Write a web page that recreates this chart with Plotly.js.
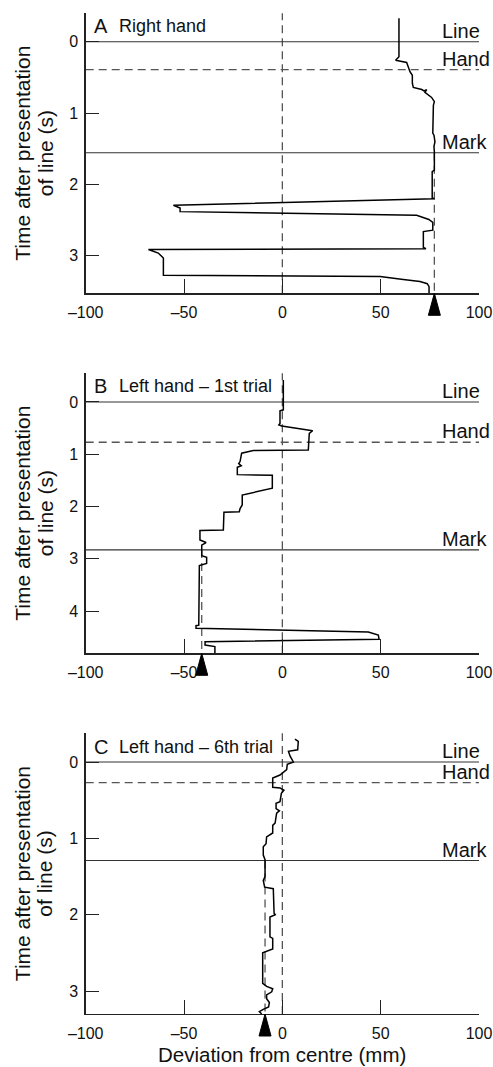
<!DOCTYPE html>
<html><head><meta charset="utf-8">
<script src="https://cdn.plot.ly/plotly-3.0.1.min.js"></script>
<style>html,body{margin:0;padding:0;background:#fff;}#chart{width:493px;height:1067px;}</style>
</head><body><div id="chart"></div>
<script>
// ---------- data ----------
const panelLetters = ['A', 'B', 'C'];
const panelTitles = ['Right hand', 'Left hand – 1st trial', 'Left hand – 6th trial'];
const eventLabels = ['Line', 'Hand', 'Mark'];
const xTickVals = [-100, -50, 0, 50, 100];
const xTickLabels = ['–100', '–50', '0', '50', '100'];
const xTitle = 'Deviation from centre (mm)';
const yTitleLines = ['Time after presentation', 'of line (s)'];

// Panel A – right hand
const timeA = [-0.33, 0.21, 0.26, 0.29, 0.35, 0.42, 0.47, 0.58, 0.64, 0.67, 0.69, 0.67, 0.71, 0.78, 0.84, 0.89, 1.28, 1.31, 1.40, 1.47, 1.54, 1.80, 1.82, 2.19, 2.20, 2.29, 2.33, 2.38, 2.43, 2.49, 2.53, 2.56, 2.64, 2.66, 2.88, 2.90, 2.91, 2.96, 3.03, 3.27, 3.29, 3.33, 3.36, 3.39, 3.43, 3.52];
const devA = [59.3, 59.3, 57.6, 63.2, 64.0, 64.9, 66.1, 66.1, 66.6, 70.9, 72.0, 73.4, 72.5, 75.9, 77.3, 76.8, 76.5, 77.1, 77.6, 77.1, 77.3, 77.3, 76.2, 76.2, 77.3, -55.4, -52.0, -52.0, 68.3, 74.5, 76.5, 76.6, 76.5, 71.7, 71.7, 73.0, -68.1, -63.1, -60.5, -60.5, 49.7, 61.5, 70.0, 73.7, 74.6, 74.6];
const eventsA = [0, 0.39, 1.555];
const finalA = 77.3;

// Panel B – left hand, 1st trial
const timeB = [-0.42, 0.15, 0.17, 0.41, 0.44, 0.46, 0.55, 0.60, 0.92, 0.93, 0.98, 1.14, 1.18, 1.22, 1.25, 1.39, 1.40, 1.65, 1.78, 1.97, 2.04, 2.10, 2.11, 2.45, 2.46, 2.64, 2.69, 2.74, 2.94, 2.97, 3.09, 3.13, 4.27, 4.28, 4.33, 4.40, 4.46, 4.54, 4.59, 4.65, 4.68, 4.81];
const devB = [0.5, 0.5, -1.2, -1.2, -1.8, -0.3, 15.4, 13.7, 13.2, -14.8, -20.7, -21.5, -22.2, -20.9, -22.9, -22.9, -5.1, -5.1, -20.4, -20.4, -21.5, -21.9, -29.7, -30.0, -41.9, -41.9, -38.8, -41.0, -41.0, -38.5, -38.5, -42.2, -42.5, -43.9, -43.9, 43.7, 48.8, 49.2, -39.3, -39.3, -34.3, -34.3];
const eventsB = [0, 0.77, 2.83];
const finalB = -41.0;

// Panel C – left hand, 6th trial
const timeC = [-0.30, -0.27, -0.16, -0.14, -0.08, 0.00, 0.03, 0.10, 0.17, 0.21, 0.33, 0.34, 0.37, 0.41, 0.52, 0.54, 0.61, 0.64, 0.67, 0.80, 0.83, 0.93, 0.98, 1.07, 1.11, 1.22, 1.28, 1.50, 1.55, 1.64, 1.66, 1.98, 2.00, 2.03, 2.29, 2.31, 2.45, 2.50, 2.90, 2.94, 2.97, 3.01, 3.05, 3.10, 3.15, 3.21, 3.24, 3.27, 3.30];
const devC = [6.4, 8.1, 7.8, 3.1, 3.9, 5.6, 2.5, 2.2, -1.2, -4.9, -4.9, -1.2, 0.8, -0.5, -1.2, -3.2, -3.2, -1.5, -2.9, -3.7, -4.9, -4.9, -8.0, -8.3, -9.7, -9.7, -8.8, -8.8, -9.7, -9.0, -4.6, -4.2, -3.6, -6.3, -6.3, -4.9, -4.9, -10.0, -10.0, -8.0, -4.9, -5.4, -8.0, -8.0, -6.6, -7.0, -9.7, -11.7, -10.5];
const eventsC = [0, 0.27, 1.29];
const finalC = -8.8;

// ---------- layout geometry (pixels) ----------
const W = 493, H = 1067;
const FONT = '"Liberation Sans", Arial, Helvetica, sans-serif';
const plotL = 85.7, plotR = 479;
const tops = [13.3, 373.3, 733.3];
const bottoms = [293.3, 653.3, 1014];
const yRanges = [[3.524, -0.398], [4.809, -0.549], [3.301, -0.376]];
const letterShift = [-12.4, -12.2, -13.4];

const series = [
  {t: timeA, x: devA, ev: eventsA, fin: finalA},
  {t: timeB, x: devB, ev: eventsB, fin: finalB},
  {t: timeC, x: devC, ev: eventsC, fin: finalC}
];

const data = [], shapes = [], annotations = [];
const layout = {
  width: W, height: H,
  margin: {l: 0, r: 0, t: 0, b: 0},
  paper_bgcolor: '#fff', plot_bgcolor: '#fff',
  showlegend: false,
  font: {family: FONT, color: '#111', size: 16},
  shapes: shapes, annotations: annotations
};

series.forEach((s, i) => {
  const n = i === 0 ? '' : String(i + 1);
  const xr = 'x' + n, yr = 'y' + n;
  data.push({
    type: 'scatter', mode: 'lines', x: s.x, y: s.t, xaxis: xr, yaxis: yr,
    line: {color: '#000', width: 1.5}, hoverinfo: 'skip', cliponaxis: true
  });
  layout['xaxis' + n] = {
    domain: [plotL / W, plotR / W], range: [-100, 100], anchor: yr,
    showline: true, linecolor: '#222', linewidth: 1.3,
    ticks: 'inside', ticklen: 14, tickwidth: 1, tickcolor: '#222',
    tickmode: 'array', tickvals: xTickVals, ticktext: xTickLabels,
    tickfont: {size: 16, family: FONT, color: '#111'},
    showgrid: false, zeroline: false, fixedrange: true, ticklabelstandoff: 4
  };
  layout['yaxis' + n] = {
    domain: [1 - bottoms[i] / H, 1 - tops[i] / H], range: yRanges[i], anchor: xr,
    showline: true, linecolor: '#222', linewidth: 1.3,
    ticks: 'inside', ticklen: 13, tickwidth: 1, tickcolor: '#222',
    tick0: 0, dtick: 1,
    tickfont: {size: 16, family: FONT, color: '#111'},
    showgrid: false, zeroline: false, fixedrange: true, ticklabelstandoff: 3
  };
  // event lines
  s.ev.forEach((e, k) => {
    shapes.push({
      type: 'line', layer: 'below', xref: xr, yref: yr,
      x0: -100, x1: 100, y0: e, y1: e,
      line: k === 1 ? {color: '#555', width: 1.3, dash: '8px,5px'} : {color: '#333', width: 1.1}
    });
    annotations.push({
      xref: xr, yref: yr, x: 80, y: e, xanchor: 'left', yanchor: 'middle', yshift: 10.8,
      text: eventLabels[k], showarrow: false, font: {size: 20, family: FONT, color: '#111'}
    });
  });
  // centre line
  shapes.push({
    type: 'line', layer: 'below', xref: xr, yref: yr + ' domain',
    x0: 0, x1: 0, y0: 0, y1: 1,
    line: {color: '#555', width: 1.3, dash: '8px,5px'}
  });
  // final-position line
  shapes.push({
    type: 'line', layer: 'below', xref: xr, yref: yr,
    x0: s.fin, x1: s.fin, y0: s.ev[2], y1: yRanges[i][0],
    line: {color: '#555', width: 1.3, dash: '8px,5px'}
  });
  // final-position arrowhead
  shapes.push({
    type: 'path', layer: 'above', xref: xr, yref: yr + ' domain',
    xsizemode: 'pixel', xanchor: s.fin, ysizemode: 'pixel', yanchor: 0,
    path: 'M-6,-22L6,-22L0,0Z',
    fillcolor: '#000', line: {color: '#000', width: 1}
  });
  // panel letter + title
  annotations.push({
    xref: xr + ' domain', yref: yr + ' domain', x: 0, y: 1, xanchor: 'left', yanchor: 'middle',
    xshift: 6, yshift: letterShift[i], text: panelLetters[i], showarrow: false,
    font: {size: 20, family: FONT, color: '#111'}
  });
  annotations.push({
    xref: xr + ' domain', yref: yr + ' domain', x: 0, y: 1, xanchor: 'left', yanchor: 'middle',
    xshift: 31.6, yshift: letterShift[i], text: panelTitles[i], showarrow: false,
    font: {size: 18, family: FONT, color: '#111'}
  });
  // y-axis title (two lines)
  [22.5, 45].forEach((px, k) => {
    annotations.push({
      xref: 'paper', yref: yr + ' domain', x: px / W, y: 0.5, xanchor: 'center', yanchor: 'middle',
      textangle: -90, text: yTitleLines[k], showarrow: false,
      font: {size: 21, family: FONT, color: '#111'}
    });
  });
});

// x-axis title under the bottom panel
annotations.push({
  xref: 'x3 domain', yref: 'paper', x: 0.5, y: 1 - 1054 / H, xanchor: 'center', yanchor: 'middle',
  text: xTitle, showarrow: false, font: {size: 20.5, family: FONT, color: '#111'}
});

Plotly.newPlot('chart', data, layout, {staticPlot: true, displayModeBar: false});
</script>
</body></html>
